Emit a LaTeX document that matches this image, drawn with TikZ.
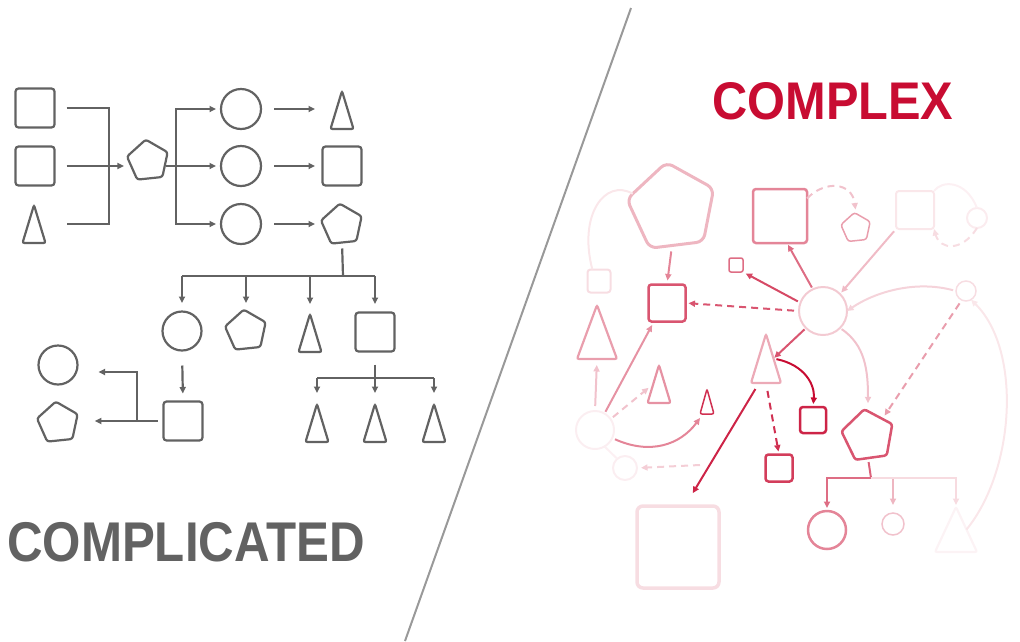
\documentclass[tikz,border=0pt]{standalone}
\usepackage{fontspec}
\setmainfont{Liberation Sans}
\usetikzlibrary{shapes.geometric,arrows.meta,calc}

\definecolor{ink}{RGB}{98,98,98}
\definecolor{cx}{RGB}{200,12,50}

\tikzset{
    shp/.style={draw, inner sep=0pt, outer sep=0pt, line width=2.2pt},
    box/.style={shp, rectangle, rounded corners=3pt, minimum size=#1},
    ring/.style={shp, circle, minimum size=#1},
    penta/.style={shp, regular polygon, regular polygon sides=5, rounded corners=2.5pt, shape border rotate=6, minimum size=#1},
    tri/.style 2 args={shp, isosceles triangle, isosceles triangle stretches, shape border rotate=90, rounded corners=2pt, minimum width=#1, minimum height=#2, anchor=apex},
    ln/.style={ink, line width=2.2pt},
    arr/.style={ln, -{Triangle[length=6.5pt, width=6pt]}},
    pl/.style={line width=2pt, draw=cx!#1},
    parr/.style={pl=#1, -{Triangle[length=6.5pt, width=6pt]}},
    dsh/.style={dash pattern=on 7pt off 5pt},
}

\begin{document}
\begin{tikzpicture}[x=1pt, y=-1pt]
    \useasboundingbox (0,0) rectangle (1020,641);

    % divider
    \draw[black!40, line width=2pt] (631,8) -- (405,641);

    % complicated side
    \begin{scope}[ink]
        \node[box=39pt] (a1) at (35,108) {};
        \node[box=39pt] (a2) at (35,166) {};
        \node[tri={23pt}{38pt}] (a3) at (34,205) {};
        \node[penta=43pt] (p0) at (148,161) {};
        \foreach[count=\i] \y in {109,166,224}
            \node[ring=40pt] (b\i) at (241,\y) {};
        \node[tri={23pt}{38pt}] (c1) at (342,91) {};
        \node[box=39pt] (c2) at (342,166) {};
        \node[penta=43pt] (c3) at (342,225) {};
        \node[ring=39pt] (d1) at (182,331) {};
        \node[penta=43pt] (d2) at (246,331) {};
        \node[tri={23pt}{38pt}] (d3) at (310,314) {};
        \node[box=39pt] (d4) at (375,332) {};
        \node[box=39pt] (e1) at (183,421) {};
        \node[ring=39pt] (f1) at (58,365) {};
        \node[penta=43pt] (f2) at (58,423) {};
        \foreach[count=\i] \x in {317,375,434}
            \node[tri={23pt}{38pt}] (g\i) at (\x,404) {};
    \end{scope}

    \coordinate (ja) at (109,166);
    \coordinate (jb) at (176,166);
    \coordinate (jc) at (343,276);
    \coordinate (je) at (137,421);
    \coordinate (jd) at (375,378);

    \draw[ln, shorten <=12pt] (a1.east) -| (ja);
    \draw[ln, shorten <=33pt] ($(a3.apex)!.5!(a3.lower side)$) -| (ja);
    \draw[arr, shorten <=12pt, shorten >=5pt] (a2.east) -- (a2 -| p0.west);
    \draw[arr, shorten >=5pt] (p0.east |- b2) -- (b2.west);
    \draw[arr, shorten >=5pt] (jb) |- (b1.west);
    \draw[arr, shorten >=5pt] (jb) |- (b3.west);
    \foreach \i in {1,2,3}
        \draw[arr, shorten <=13pt, shorten >=27pt] (b\i.east) -- (b\i -| c\i.center);

    \draw[ln, shorten <=6pt] (c3.south) -- (jc);
    \draw[ln] (d1 |- jc) -- (d4 |- jc);
    \foreach \n in {d1,d2,d4}
        \draw[arr, shorten >=28pt] (\n |- jc) -- (\n.center);
    \draw[arr, shorten >=10pt] (d3.apex |- jc) -- (d3.apex);

    \draw[arr, shorten <=15pt, shorten >=8pt] (d1.south) -- (e1.north);
    \draw[arr, shorten <=6pt, shorten >=19pt] (e1.west) -- (e1 -| f2.east);
    \draw[arr, shorten >=21pt] (je) |- ([yshift=-7pt]f1.east);

    \draw[arr, shorten <=13pt, shorten >=11pt] (d4.south) -- (g2.apex);
    \draw[ln] (g1.apex |- jd) -- (g3.apex |- jd);
    \draw[arr, shorten >=11pt] (g1.apex |- jd) -- (g1.apex);
    \draw[arr, shorten >=11pt] (g3.apex |- jd) -- (g3.apex);

    \node[anchor=base west, text=ink, font=\bfseries\fontsize{56}{60}\selectfont, xscale=.88] (tcomp) at (4,561) {COMPLICATED};

    % complex side
    \node[anchor=base west, text=cx, font=\bfseries\fontsize{53}{58}\selectfont, xscale=.92] (tcpx) at (709,119) {COMPLEX};

    \node[box=82pt, rounded corners=6pt, draw=cx!14, line width=3.5pt] (bigbox) at (678,547) {};
    \node[penta=92pt, rounded corners=7pt, shape border rotate=7, draw=cx!30, line width=3pt] (bigpent) at (672,208) {};
    \node[box=23pt, draw=cx!14, line width=2pt] (fsmall) at (599,281) {};
    \node[box=37pt, draw=cx!70, line width=2.5pt] (midsq) at (667,303) {};
    \node[box=54pt, draw=cx!50, line width=2.5pt] (bigsq) at (780,216) {};
    \node[penta=31pt, draw=cx!40, line width=1.5pt] (smpent) at (856,228) {};
    \node[box=38pt, draw=cx!10, line width=2pt] (fsq) at (915,210) {};
    \node[ring=20pt, draw=cx!8, line width=2pt] (fring) at (977,218) {};
    \node[box=14pt, rounded corners=2pt, draw=cx!60, line width=1.5pt] (tinysq) at (736,265) {};
    \node[ring=48pt, draw=cx!22, line width=2pt] (hub) at (823,311) {};
    \node[ring=20pt, draw=cx!14, line width=1.5pt] (rring) at (966,291) {};
    \node[tri={40pt}{54pt}, draw=cx!40] (ltri) at (597,305) {};
    \node[ring=38pt, draw=cx!7, line width=2pt] (lring) at (595,430) {};
    \node[tri={23pt}{38pt}, draw=cx!45] (stri) at (659,365) {};
    \node[tri={14pt}{25pt}, draw=cx!85, line width=1.5pt] (ttri) at (707,389) {};
    \node[tri={30pt}{49pt}, draw=cx!35] (mtri) at (766,334) {};
    \node[box=26pt, draw=cx!90, line width=2.5pt] (rsq) at (813,420) {};
    \node[box=27pt, draw=cx!80, line width=2.5pt] (dsq) at (779,468) {};
    \node[ring=24pt, draw=cx!7, line width=2pt] (bring) at (625,468) {};
    \node[penta=54pt, shape border rotate=8, draw=cx!70, line width=2.5pt] (pent) at (868,436) {};
    \node[ring=38pt, draw=cx!50, line width=2.5pt] (o1) at (827,530) {};
    \node[ring=22pt, draw=cx!25, line width=1.5pt] (o2) at (893,524) {};
    \node[tri={42pt}{45pt}, draw=cx!5] (o3) at (956,507) {};

    \draw[pl=10] (bigpent.160) .. controls (605,178) and (578,215) .. (fsmall.120);
    \draw[parr=50, shorten <=6pt, shorten >=4pt] (bigpent.south) -- (midsq.north);
    \draw[parr=70, dsh, shorten <=5pt, shorten >=3pt] (hub.west) -- (midsq.east);
    \draw[parr=75, shorten <=3pt, shorten >=3pt] (hub.160) -- (tinysq.south east);
    \draw[parr=60, shorten <=2pt, shorten >=2pt] (hub.115) -- ([xshift=7pt]bigsq.south);
    \draw[parr=25, dsh, shorten >=4pt] (bigsq.33) .. controls (825,180) and (852,182) .. (smpent.north);
    \draw[parr=28, shorten <=3pt, shorten >=2pt] (fsq.south west) -- (hub.45);
    \draw[parr=14, dsh] (fring.south) .. controls (962,252) and (940,250) .. (fsq.south east);
    \draw[pl=6] (fsq.north east) .. controls (942,180) and (966,180) .. (fring.north);
    \draw[parr=18, shorten <=3pt] (rring.west) .. controls (915,280) and (875,292) .. (hub.east);
    \draw[parr=70, shorten <=2pt, shorten >=1pt] (hub.225) -- (mtri.right side);
    \draw[parr=100, shorten <=3pt, shorten >=3pt] (mtri.right side) .. controls (805,365) and (815,385) .. (rsq.north);
    \draw[parr=85, dsh, shorten <=8pt, shorten >=3pt] (mtri.lower side) -- (dsq.north);
    \draw[parr=90, shorten <=7pt, shorten >=15pt] ([xshift=-7pt]mtri.lower side) -- ([xshift=7pt]bigbox.north);
    \coordinate (cross) at (700,465);
    \draw[parr=20, dsh, shorten >=4pt] (cross) -- (bring.east);
    \draw[parr=25, shorten <=5pt, shorten >=6pt] (lring.north) -- (ltri.lower side);
    \draw[parr=45, shorten <=2pt, shorten >=4pt] (lring.60) -- ([xshift=-13pt]midsq.south);
    \draw[parr=25, dsh, shorten <=3pt, shorten >=6pt] (lring.35) -- (stri.left side);
    \draw[parr=50, shorten <=3pt, shorten >=5pt] (lring.-25) .. controls (650,455) and (680,445) .. ([xshift=-4pt]ttri.lower side);
    \draw[pl=6] (lring.-60) -- (bring.130);
    \draw[parr=25, shorten <=2pt, shorten >=8pt] (hub.-45) .. controls (865,345) and (868,370) .. (pent.north);
    \draw[parr=40, dsh, shorten <=4pt, shorten >=4pt] (rring.-115) -- (pent.50);
    \coordinate (pb) at (871,478);
    \draw[pl=65, shorten <=4pt] (pent.south) -- (pb);
    \draw[parr=60, shorten >=3pt] (pb) -| (o1.north);
    \draw[parr=30, shorten >=8pt] (pb) -| (o2.north);
    \draw[parr=15, shorten >=2pt] (pb) -| (o3.apex);
    \draw[parr=10] (o3.right side) .. controls (1015,470) and (1022,350) .. (rring.-60);
\end{tikzpicture}
\end{document}
